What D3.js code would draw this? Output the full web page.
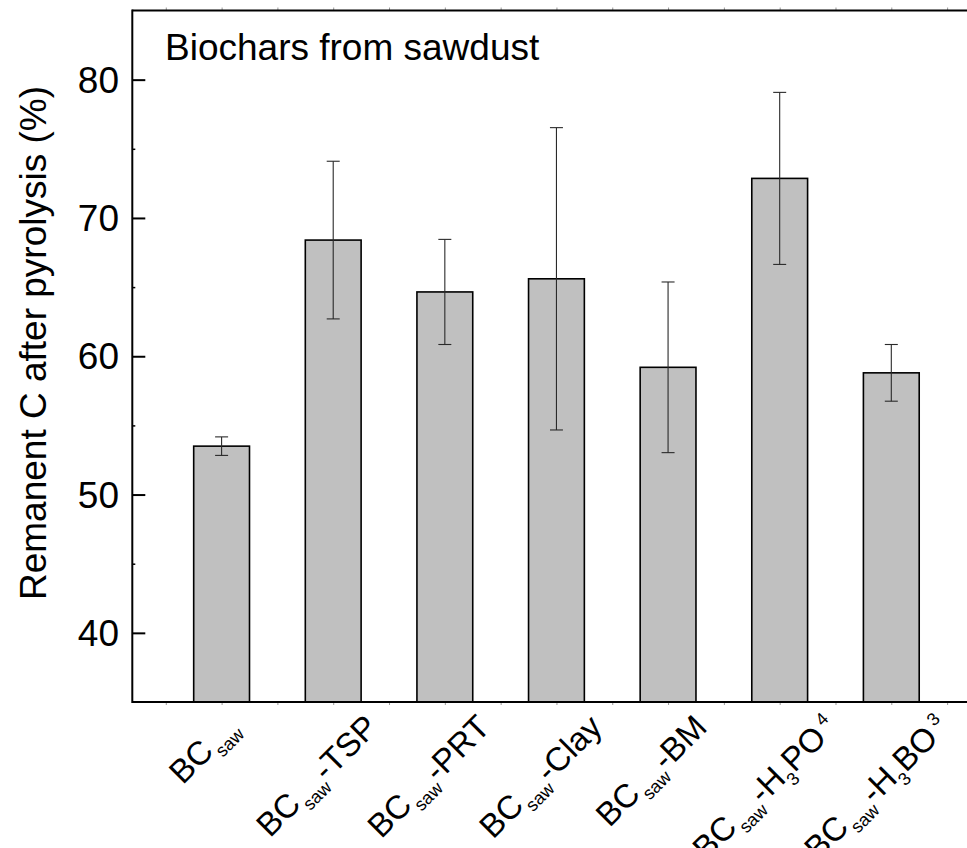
<!DOCTYPE html>
<html>
<head>
<meta charset="utf-8">
<script src="https://cdn.jsdelivr.net/npm/d3@7"></script>
<style>
  html, body { margin: 0; padding: 0; background: #fff; }
  svg { display: block; font-family: "Liberation Sans", Arial, Helvetica, sans-serif; }
</style>
</head>
<body>
<script>
// Remanent carbon after pyrolysis for sawdust biochars (mean ± error)
const categories = ["BC_saw", "BC_saw-TSP", "BC_saw-PRT", "BC_saw-Clay", "BC_saw-BM", "BC_saw-H3PO4", "BC_saw-H3BO3"];
const means  = [53.5, 68.4, 64.65, 65.6, 59.2, 72.86, 58.8];
const errors = [0.67, 5.7, 3.8, 10.93, 6.17, 6.22, 2.05];

// Rich-text pieces of each category label: [text, style] (style: "", "sub", "sup")
const labelParts = [
  [["BC", ""], ["saw", "sub"]],
  [["BC", ""], ["saw", "sub"], ["-TSP", ""]],
  [["BC", ""], ["saw", "sub"], ["-PRT", ""]],
  [["BC", ""], ["saw", "sub"], ["-Clay", ""]],
  [["BC", ""], ["saw", "sub"], ["-BM", ""]],
  [["BC", ""], ["saw", "sub"], ["-H", ""], ["3", "sub"], ["PO", ""], ["4", "sup"]],
  [["BC", ""], ["saw", "sub"], ["-H", ""], ["3", "sub"], ["BO", ""], ["3", "sup"]]
];
const yTicks = [40, 50, 60, 70, 80];
const yMinorTicks = [45, 55, 65, 75];
const yTitle = "Remanent C after pyrolysis (%)";
const panelTitle = "Biochars from sawdust";

const W = 967, H = 848;
const svg = d3.select("body").append("svg").attr("width", W).attr("height", H);

const x = d3.scaleLinear().domain([0.2, 7.8]).range([132.3, 980.6]);
const y = d3.scaleLinear().domain([35, 85]).range([702, 10.5]);
const barW = x(1.5) - x(1);

// bars
svg.selectAll("rect.bar").data(means).enter().append("rect")
  .attr("class", "bar")
  .attr("x", (d, i) => x(i + 1) - barW / 2)
  .attr("y", d => y(d))
  .attr("width", barW)
  .attr("height", d => y(35) - y(d))
  .attr("fill", "#c0c0c0")
  .attr("stroke", "#000")
  .attr("stroke-width", 1.6);

// error bars
const eb = svg.selectAll("g.err").data(means).enter().append("g").attr("class", "err")
  .attr("stroke", "#2a2a2a").attr("stroke-width", 1.1);
eb.append("line")
  .attr("x1", (d, i) => x(i + 1)).attr("x2", (d, i) => x(i + 1))
  .attr("y1", (d, i) => y(d + errors[i])).attr("y2", (d, i) => y(d - errors[i]));
eb.append("line")
  .attr("x1", (d, i) => x(i + 1) - 6.5).attr("x2", (d, i) => x(i + 1) + 6.5)
  .attr("y1", (d, i) => y(d + errors[i])).attr("y2", (d, i) => y(d + errors[i]));
eb.append("line")
  .attr("x1", (d, i) => x(i + 1) - 6.5).attr("x2", (d, i) => x(i + 1) + 6.5)
  .attr("y1", (d, i) => y(d - errors[i])).attr("y2", (d, i) => y(d - errors[i]));

// small ticks along top and bottom edges
const xMinor = d3.range(1, 16).map(k => k * 0.5);
const bottomAxis = d3.axisBottom(x).tickValues(xMinor).tickSize(3).tickFormat("");
const topAxis = d3.axisTop(x).tickValues(xMinor).tickSize(3).tickFormat("");
const gb = svg.append("g").attr("transform", `translate(0,${y(35)})`).call(bottomAxis);
const gt = svg.append("g").attr("transform", `translate(0,${y(85)})`).call(topAxis);
[gb, gt].forEach(g => {
  g.select(".domain").remove();
  g.selectAll(".tick line").attr("stroke", "#999").attr("stroke-width", 1);
});

// left axis: major ticks inward with labels, minor ticks inward
const leftAxis = d3.axisRight(y).tickValues(yTicks).tickSize(13).tickFormat("");
const gl = svg.append("g").attr("transform", `translate(${x(0.2)},0)`).call(leftAxis);
gl.select(".domain").remove();
gl.selectAll(".tick line").attr("stroke", "#000").attr("stroke-width", 2);
const leftMinor = d3.axisRight(y).tickValues(yMinorTicks).tickSize(3).tickFormat("");
const glm = svg.append("g").attr("transform", `translate(${x(0.2)},0)`).call(leftMinor);
glm.select(".domain").remove();
glm.selectAll(".tick line").attr("stroke", "#000").attr("stroke-width", 1.5);

svg.selectAll("text.ytick").data(yTicks).enter().append("text")
  .attr("class", "ytick")
  .attr("x", 119).attr("y", d => y(d) + 13.2)
  .attr("text-anchor", "end")
  .attr("font-size", 37)
  .text(d => d);

// frame
svg.append("line").attr("x1", x(0.2)).attr("x2", x(7.8)).attr("y1", y(85)).attr("y2", y(85))
  .attr("stroke", "#000").attr("stroke-width", 2);
svg.append("line").attr("x1", x(0.2)).attr("x2", x(7.8)).attr("y1", y(35)).attr("y2", y(35))
  .attr("stroke", "#000").attr("stroke-width", 2.2);
svg.append("line").attr("x1", x(0.2)).attr("x2", x(0.2)).attr("y1", y(85) - 1).attr("y2", y(35) + 1)
  .attr("stroke", "#000").attr("stroke-width", 2);
svg.append("line").attr("x1", x(7.8)).attr("x2", x(7.8)).attr("y1", y(85) - 1).attr("y2", y(35) + 1)
  .attr("stroke", "#000").attr("stroke-width", 2);

// y title
svg.append("text")
  .attr("transform", `translate(46,343) rotate(-90)`)
  .attr("text-anchor", "middle")
  .attr("font-size", 37)
  .text(yTitle);

// panel title
svg.append("text")
  .attr("x", 165).attr("y", 60)
  .attr("font-size", 37)
  .text(panelTitle);

// rotated category labels: longer labels are pushed further right so that each
// label stays roughly centred under its bar
const mainSize = 33, subSize = 18;
labelParts.forEach((parts, i) => {
  const t = svg.append("text")
    .attr("text-anchor", "end")
    .attr("font-size", mainSize);
  let shift = 0;
  parts.forEach(([txt, style]) => {
    let target = 0, size = mainSize, gap = 0;
    if (style === "sub") { target = 9; size = subSize; gap = txt === "saw" ? 2 : 0; }
    if (style === "sup") { target = -13; size = subSize; gap = 5; }
    t.append("tspan")
      .attr("font-size", size)
      .attr("dx", gap)
      .attr("dy", target - shift)
      .text(txt);
    shift = target;
  });
  const L = t.node().getBBox().width;
  const endX = x(i + 1) - 14 + 0.39 * L;
  t.attr("transform", `translate(${endX},729) rotate(-45)`);
});
</script>
</body>
</html>
